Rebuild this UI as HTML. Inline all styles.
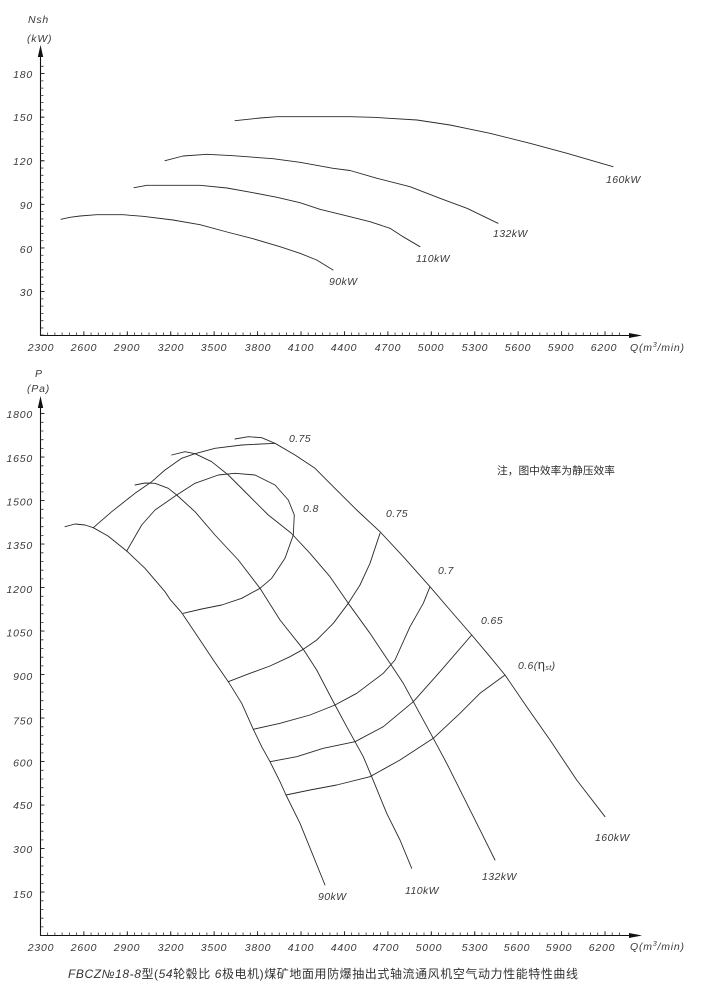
<!DOCTYPE html>
<html>
<head>
<meta charset="utf-8">
<style>
  html,body{margin:0;padding:0;background:#fff;}
  svg{display:block;}
  .t{font-family:"Liberation Sans","Noto Sans CJK SC",sans-serif;font-style:italic;font-size:10.5px;fill:#3a3a3a;letter-spacing:0.8px;}
  .c{fill:none;stroke:#2a2a2a;stroke-width:0.9;stroke-linejoin:round;stroke-linecap:round;}
  .ax{stroke:#111;stroke-width:1.1;fill:none;}
</style>
</head>
<body>
<svg width="703" height="994" viewBox="0 0 703 994" xmlns="http://www.w3.org/2000/svg">
<rect width="703" height="994" fill="#fff"/>

<!-- ================= TOP CHART ================= -->
<line class="ax" x1="40.5" y1="335.5" x2="40.5" y2="56"/>
<polygon points="40.5,45 37.8,57 43.2,57" fill="#111"/>
<line class="ax" x1="40" y1="335.5" x2="630" y2="335.5"/>
<polygon points="642,335.5 629,333 629,338" fill="#111"/>
<line x1="42" y1="335.6" x2="42" y2="62" stroke="#333" stroke-width="3" stroke-dasharray="0.8 6.467"/>
<line x1="42.5" y1="335.6" x2="42.5" y2="62" stroke="#222" stroke-width="4" stroke-dasharray="0.9 42.7"/>
<line x1="40" y1="334" x2="620" y2="334" stroke="#333" stroke-width="3" stroke-dasharray="0.8 6.438"/>
<line x1="40" y1="333.5" x2="620" y2="333.5" stroke="#222" stroke-width="4.5" stroke-dasharray="0.9 42.53"/>

<g class="t" text-anchor="end">
  <text x="33" y="78">180</text>
  <text x="33" y="121">150</text>
  <text x="33" y="165">120</text>
  <text x="33" y="209">90</text>
  <text x="33" y="253">60</text>
  <text x="33" y="296">30</text>
</g>
<text class="t" x="28" y="23">Nsh</text>
<text class="t" x="27" y="42">(kW)</text>

<g class="t" text-anchor="middle">
  <text x="41" y="351">2300</text>
  <text x="84" y="351">2600</text>
  <text x="127" y="351">2900</text>
  <text x="171" y="351">3200</text>
  <text x="214" y="351">3500</text>
  <text x="258" y="351">3800</text>
  <text x="301" y="351">4100</text>
  <text x="344" y="351">4400</text>
  <text x="388" y="351">4700</text>
  <text x="431" y="351">5000</text>
  <text x="475" y="351">5300</text>
  <text x="518" y="351">5600</text>
  <text x="561" y="351">5900</text>
  <text x="604" y="351">6200</text>
</g>
<text class="t" x="630" y="351">Q(m<tspan font-size="7" dy="-4">3</tspan><tspan dy="4">/min)</tspan></text>

<polyline class="c" points="61,219.3 70,217.3 80,216 96.7,214.7 123,214.7 143,216.3 173,220 200,224.7 227,232 253,238.7 280,246.7 300,253.3 316.7,260 333,270"/>
<polyline class="c" points="134,187.7 147,185.3 200,185.3 227,188 253,192.7 277,197.3 300,202.7 320,209.3 350,216.7 370,221.7 390,228.3 403,236.7 420,246.7"/>
<polyline class="c" points="165,160.7 183,156 207,154.3 233,155.7 273,158.7 300,162.3 333,168.3 350,170.5 377,178.3 410,186.7 440,198.3 467,208.3 498,223.3"/>
<polyline class="c" points="235,120.7 260,118 277,116.7 350,116.7 373,117.3 417,120 450,125 490,133.3 530,143.3 567,153.3 613,166.7"/>
<g class="t" style="letter-spacing:0.4px">
  <text x="329" y="285">90kW</text>
  <text x="416" y="262">110kW</text>
  <text x="493" y="237">132kW</text>
  <text x="606" y="183">160kW</text>
</g>

<!-- ================= BOTTOM CHART ================= -->
<line class="ax" x1="40.5" y1="935.5" x2="40.5" y2="407"/>
<polygon points="40.5,396 37.8,408 43.2,408" fill="#111"/>
<line class="ax" x1="40" y1="935.5" x2="630" y2="935.5"/>
<polygon points="642,935.5 629,933 629,938" fill="#111"/>
<line x1="42" y1="936" x2="42" y2="410" stroke="#333" stroke-width="3" stroke-dasharray="0.8 7.9"/>
<line x1="42.5" y1="936" x2="42.5" y2="410" stroke="#222" stroke-width="4" stroke-dasharray="0.9 42.6"/>
<line x1="40" y1="934" x2="620" y2="934" stroke="#333" stroke-width="3" stroke-dasharray="0.8 6.438"/>
<line x1="40" y1="933.5" x2="620" y2="933.5" stroke="#222" stroke-width="4.5" stroke-dasharray="0.9 42.53"/>

<g class="t" text-anchor="end">
  <text x="33" y="418">1800</text>
  <text x="33" y="462">1650</text>
  <text x="33" y="505.5">1500</text>
  <text x="33" y="549">1350</text>
  <text x="33" y="593">1200</text>
  <text x="33" y="636.5">1050</text>
  <text x="33" y="680">900</text>
  <text x="33" y="724.5">750</text>
  <text x="33" y="766.5">600</text>
  <text x="33" y="809">450</text>
  <text x="33" y="853">300</text>
  <text x="33" y="898">150</text>
</g>
<text class="t" x="35" y="377">P</text>
<text class="t" x="27" y="392">(Pa)</text>

<g class="t" text-anchor="middle">
  <text x="41" y="951">2300</text>
  <text x="84" y="951">2600</text>
  <text x="127" y="951">2900</text>
  <text x="171" y="951">3200</text>
  <text x="214" y="951">3500</text>
  <text x="258" y="951">3800</text>
  <text x="301" y="951">4100</text>
  <text x="344" y="951">4400</text>
  <text x="386" y="951">4700</text>
  <text x="429" y="951">5000</text>
  <text x="475" y="951">5300</text>
  <text x="517" y="951">5600</text>
  <text x="559" y="951">5900</text>
  <text x="602" y="951">6200</text>
</g>
<text class="t" x="630" y="950">Q(m<tspan font-size="7" dy="-4">3</tspan><tspan dy="4">/min)</tspan></text>

<polyline class="c" points="65,526.7 75,524 85,525 93.3,527.7 108,536 126.7,551 145,568.3 165,591.7 170,599.3 181.7,612.7 200,640 213.3,660 228.3,681.7 241.7,703.3 253.3,729.3 261.7,746.7 270,761.7 280,781.7 286,795 300,823.3 325,885"/>
<polyline class="c" points="135,485 145,483 155,483.3 168.3,488.3 176.7,495 195,511.7 215,535 238.3,560 260,588.3 280,620 303.3,649.3 316.7,670 335,705 346.7,726.7 355,741.7 363.3,756.7 371.7,776.7 386.7,813.3 400,840 411.7,868.3"/>
<polyline class="c" points="171.7,455 185,451.7 195,453.7 211.7,461.7 228.3,475 248.3,495 268.3,515 291,533 310,553.3 330,576.7 348.3,603.3 370,633.3 390,663.3 403.3,683.3 413.3,701.7 433.3,738.3 446.7,763.3 466.7,803.3 481.7,833.3 495,860"/>
<polyline class="c" points="235,439 248.3,436.7 261.7,437.7 275,443.3 295,455 315,468.3 333.3,486.7 356.7,510 380,531.7 403.3,556.7 430,586.7 450,610 471.7,635 490,656.7 505,675 526.7,706.7 550,740 576.7,780 605,816.7"/>

<polyline class="c" points="93.3,527.7 111.7,511.7 135,493.3 151.7,481.7 165,470 181.7,458.3 195,453.7 215,448.3 241.7,445 275,443.3"/>
<polyline class="c" points="126.7,551 141.7,525 155,510 176.7,495 195,483.3 218.3,475 235,473.3 255,475 275,485 288.3,500 294.3,515 293.3,535 285,558.3 271.7,578.3 260,588.3 241.7,598.3 221.7,605 201.7,609 183.3,613.3"/>
<polyline class="c" points="228.3,681.7 250,673.3 270,666 290,656.7 303.3,649.3 316.7,640 333.3,623.3 348.3,603.3 360,585 370,563.3 380,533.3"/>
<polyline class="c" points="253.3,729.3 280,723.3 310,715 335,705 356.7,693.3 383.3,673.3 395,660 410,626.7 423.3,603.3 430,586.7"/>
<polyline class="c" points="270,761.7 296.7,756.7 323.3,748.3 355,741.7 383.3,726.7 413.3,701.7 440,671.7 471.7,635"/>
<polyline class="c" points="286,795 310,790 336.7,785 370,776.7 400,760 433.3,738.3 460,713.3 480,693.3 505,675"/>

<g class="t" style="letter-spacing:0.4px">
  <text x="318" y="900">90kW</text>
  <text x="405" y="894">110kW</text>
  <text x="482" y="880">132kW</text>
  <text x="595" y="841">160kW</text>
  <text x="289" y="442">0.75</text>
  <text x="303" y="512">0.8</text>
  <text x="386" y="517">0.75</text>
  <text x="438" y="574">0.7</text>
  <text x="481" y="624">0.65</text>
  <text x="518" y="669">0.6(<tspan font-size="13" font-style="normal">η</tspan><tspan font-size="7" dy="1">st</tspan><tspan dy="-1">)</tspan></text>
</g>

<text x="497" y="474" textLength="118" lengthAdjust="spacingAndGlyphs" style="font-family:'Liberation Sans','Noto Sans CJK SC',sans-serif;font-size:10.5px;fill:#2a2a2a;">注，图中效率为静压效率</text>

<text x="68" y="978" textLength="510" lengthAdjust="spacing" style="font-family:'Liberation Sans','Noto Sans CJK SC',sans-serif;font-size:12px;fill:#333;"><tspan font-style="italic">FBCZ№18-8</tspan>型(<tspan font-style="italic">54</tspan>轮毂比 <tspan font-style="italic">6</tspan>极电机)煤矿地面用防爆抽出式轴流通风机空气动力性能特性曲线</text>

</svg>
</body>
</html>
